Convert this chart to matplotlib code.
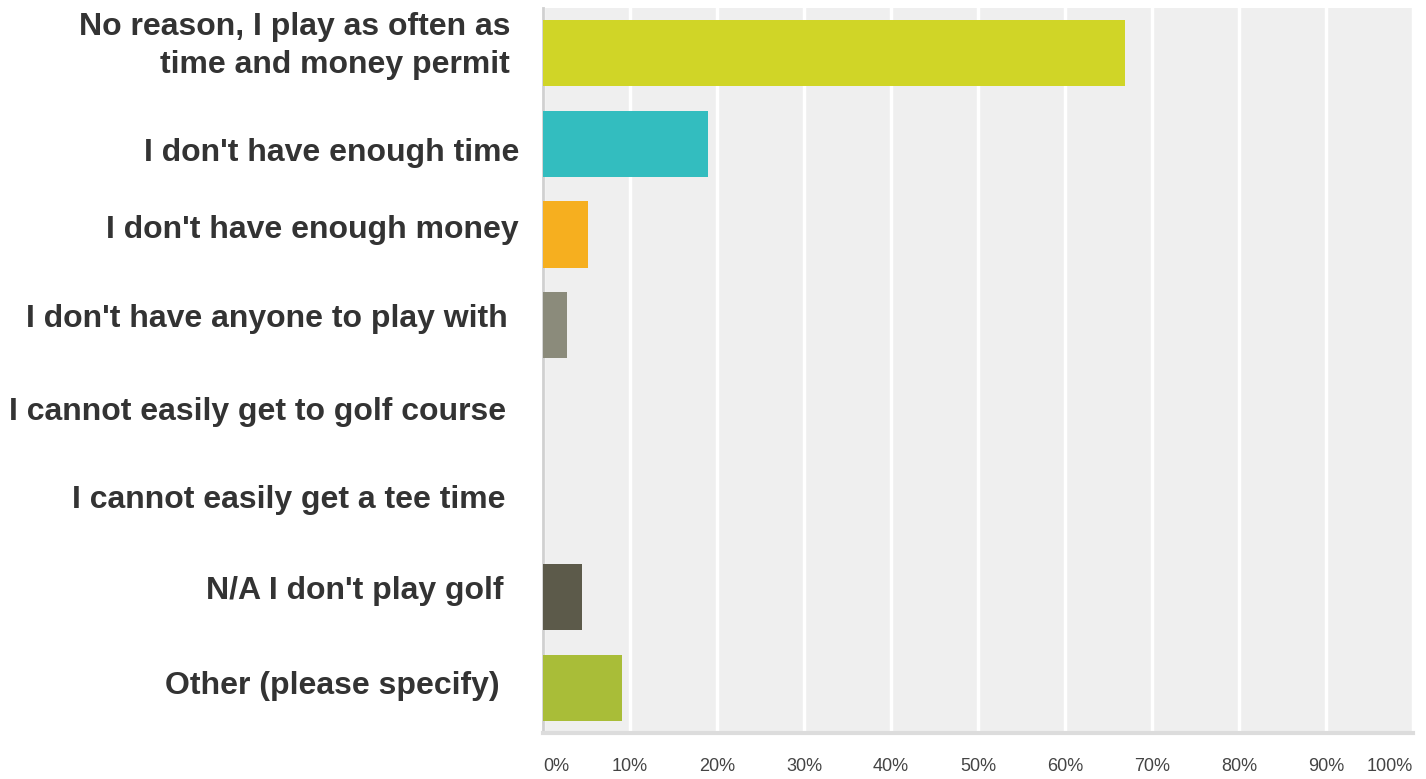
import numpy as np
import matplotlib
matplotlib.use("Agg")
import matplotlib.pyplot as plt
from matplotlib import transforms

# answers (top to bottom) and share of respondents in %
categories = [
    "No reason, I play as often as\ntime and money permit",
    "I don't have enough time",
    "I don't have enough money",
    "I don't have anyone to play with",
    "I cannot easily get to golf course",
    "I cannot easily get a tee time",
    "N/A I don't play golf",
    "Other (please specify)",
]
values = [66.9, 19.0, 5.2, 2.8, 0.0, 0.0, 4.5, 9.1]
colors = ["#d0d527", "#33bdbf", "#f6af1f", "#8b8b7b", "#8b8b7b", "#8b8b7b", "#5c5a4a", "#a9bd38"]
ticks = [0, 10, 20, 30, 40, 50, 60, 70, 80, 90, 100]
tick_labels = ["0%", "10%", "20%", "30%", "40%", "50%", "60%", "70%", "80%", "90%", "100%"]

# label nudges in pixels (right edge from axis, vertical shift up)
label_dx = [-33, -24, -24, -35, -37, -38, -40, -43]
label_dy = [7, -9, 5, 6, 4, 6, 6, 2]

plt.rcParams["font.family"] = ["Liberation Sans", "DejaVu Sans"]

fig = plt.figure(figsize=(14.26, 7.79), dpi=100)
ax = fig.add_axes([0.3808, 0.0591, 0.6101, 0.9306])
ax.set_facecolor("#efefef")

y = np.arange(len(categories))
ax.barh(y, values, height=0.73, color=colors, zorder=3)

ax.set_xlim(0, 100)
ax.set_ylim(len(categories) - 0.5, -0.5)

ax.set_xticks(ticks)
ax.set_xticklabels(tick_labels, fontsize=13, color="#444444")
labs = ax.get_xticklabels()
labs[0].set_horizontalalignment("left")
labs[-1].set_horizontalalignment("right")
ax.tick_params(axis="x", length=0, pad=18)
ax.xaxis.grid(True, color="white", linewidth=2.5, zorder=1)
ax.set_axisbelow(True)

ax.set_yticks([])
base = transforms.blended_transform_factory(ax.transAxes, ax.transData)
for i, lab in enumerate(categories):
    tr = transforms.offset_copy(base, fig=fig, x=label_dx[i], y=label_dy[i], units="dots")
    ax.text(0, y[i], lab, transform=tr, ha="right", va="center", multialignment="right",
            fontsize=23, fontweight="bold", color="#333333", linespacing=1.34)

for s in ["top", "right"]:
    ax.spines[s].set_visible(False)
ax.spines["left"].set_color("#d0d0d0")
ax.spines["left"].set_linewidth(2)
ax.spines["bottom"].set_color("#dcdcdc")
ax.spines["bottom"].set_linewidth(3)

plt.savefig("out.png", dpi=100)
